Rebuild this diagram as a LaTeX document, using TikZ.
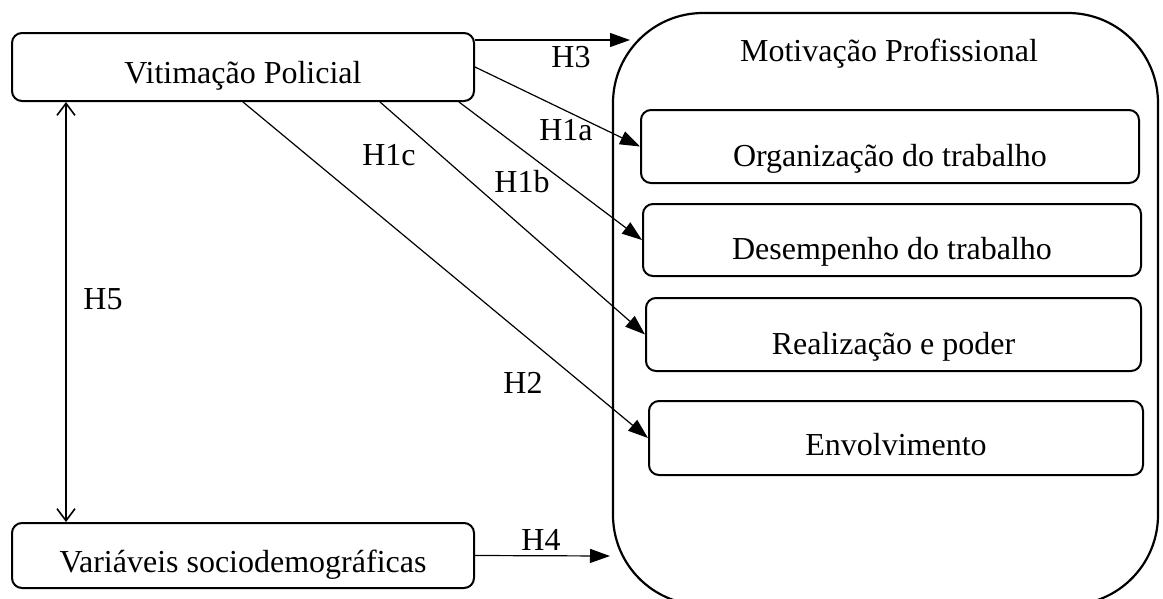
\documentclass[tikz,border=0pt]{standalone}
\usepackage{fontspec}
\setmainfont{Liberation Serif}
\usetikzlibrary{arrows.meta,calc}
\begin{document}
\begin{tikzpicture}[x=1pt,y=-1pt,
  box/.style={draw, line width=2pt, rounded corners=10pt, inner sep=0pt,
    font=\fontsize{32}{38}\selectfont, text height=33pt, text depth=0pt},
  rbox/.style={box, text height=39pt},
  lbl/.style={font=\fontsize{32}{38}\selectfont, inner sep=0pt},
  arr/.style={line width=1.2pt, -{Triangle[length=20pt,width=14pt]}},
  dbl/.style={line width=1.6pt, {Straight Barb[length=12pt,width=18pt]}-{Straight Barb[length=12pt,width=18pt]}}]
\useasboundingbox (0,0) rectangle (1163,598);
\clip (0,0) rectangle (1163,598);
% container
\node[draw, line width=2.2pt, rounded corners=90pt, minimum width=545pt, minimum height=592pt, inner sep=0pt] (mp) at (885.5,309) {};
\node[lbl] (mpt) at (889,54) {Motivação Profissional};
% boxes
\node[box, minimum width=462pt, minimum height=68pt] (vp) at (243,67) {Vitimação Policial};
\node[box, minimum width=462pt, minimum height=65pt] (vs) at (243,555.5) {Variáveis sociodemográficas};
\node[rbox, minimum width=498pt, minimum height=73pt] (org) at (890,146.5) {Organização do trabalho};
\node[rbox, minimum width=498pt, minimum height=72pt] (des) at (892,240) {Desempenho do trabalho};
\node[rbox, minimum width=495pt, minimum height=73pt] (rea) at (893.5,334.5) {Realização e poder};
\node[box, text height=35pt, minimum width=494pt, minimum height=74pt] (env) at (896,438) {Envolvimento};
% free ends on the container
\coordinate (h3e) at (630,40);
\coordinate (h4e) at (610,556);
% connectors
\draw[arr] ($(vp.east)+(0,-27)$) -- (h3e);
\draw[arr] (vp.east) -- (org.west);
\draw[arr] ($(vp.south east)+(-16,0)$) -- (des.west);
\draw[arr] ($(vp.south)+(137,0)$) -- (rea.west);
\draw[arr] (vp.south) -- (env.west);
\draw[arr] (vs.east) -- (h4e);
\draw[dbl] ($(vp.south west)+(55,0)$) -- ($(vs.north west)+(55,0)$);
% labels
\node[lbl] (h3) at (571,57) {H3};
\node[lbl] (h1a) at (566,130) {H1a};
\node[lbl] (h1b) at (522,182) {H1b};
\node[lbl] (h1c) at (389,155) {H1c};
\node[lbl] (h2) at (523,383) {H2};
\node[lbl] (h5) at (103,299) {H5};
\node[lbl] (h4) at (541,540) {H4};
\end{tikzpicture}
\end{document}
